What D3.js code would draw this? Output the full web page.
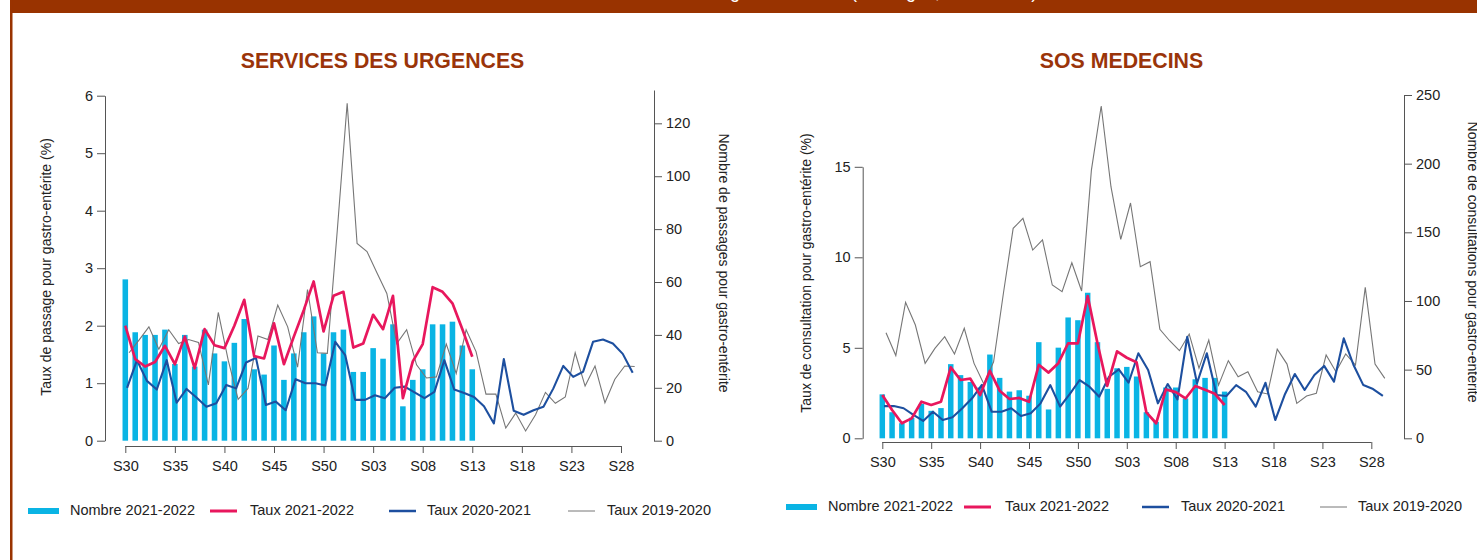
<!DOCTYPE html>
<html>
<head>
<meta charset="utf-8">
<script src="https://cdn.jsdelivr.net/npm/d3@7"></script>
<style>
  body { margin: 0; background: #fff; }
  svg { display: block; font-family: "Liberation Sans", Arial, sans-serif; }
</style>
</head>
<body>
<svg id="chart" width="1477" height="560"></svg>
<script>
// week categories (season S30 -> S29)
const weeks = ["S30","S31","S32","S33","S34","S35","S36","S37","S38","S39","S40","S41","S42","S43","S44","S45","S46","S47","S48","S49","S50","S51","S52",
  "S01","S02","S03","S04","S05","S06","S07","S08","S09","S10","S11","S12","S13","S14","S15","S16","S17","S18","S19","S20","S21","S22","S23","S24","S25","S26","S27","S28","S29"];
const tickWeeks = ["S30","S35","S40","S45","S50","S03","S08","S13","S18","S23","S28"];

// SERVICES DES URGENCES
const urgNombre2122 = [61, 41, 40, 40, 42, 29, 40, 28, 42, 33, 30, 37, 46, 27, 25, 36, 23, 33, 41, 47, 33, 41, 42, 26, 26, 35, 31, 44, 13, 23, 27, 44, 44, 45, 36, 27];
const urgTaux2122 = [2.0, 1.42, 1.29, 1.37, 1.65, 1.33, 1.81, 1.26, 1.94, 1.66, 1.61, 2.0, 2.45, 1.47, 1.43, 2.04, 1.33, 1.81, 2.27, 2.77, 1.9, 2.52, 2.59, 1.62, 1.69, 2.19, 1.94, 2.52, 0.74, 1.38, 1.68, 2.67, 2.59, 2.39, 1.94, 1.46];
const urgTaux2021 = [0.92, 1.40, 1.04, 0.89, 1.40, 0.66, 0.90, 0.75, 0.59, 0.65, 0.97, 0.91, 1.36, 1.44, 0.62, 0.68, 0.53, 1.07, 1.0, 1.0, 0.96, 1.72, 1.49, 0.71, 0.71, 0.79, 0.74, 0.92, 0.94, 0.84, 0.74, 0.85, 1.40, 0.89, 0.83, 0.76, 0.60, 0.30, 1.42, 0.52, 0.45, 0.53, 0.59, 0.91, 1.30, 1.11, 1.20, 1.72, 1.76, 1.69, 1.51, 1.18];
const urgTaux1920 = [1.53, 1.75, 1.98, 1.59, 1.93, 1.69, 1.76, 1.71, 0.97, 2.23, 1.40, 0.72, 0.91, 1.82, 1.76, 2.36, 1.98, 1.28, 2.63, 1.53, 1.52, 3.65, 5.87, 3.43, 3.29, 2.92, 2.56, 1.69, 1.93, 1.32, 1.09, 1.11, 1.68, 1.17, 1.93, 1.55, 0.81, 0.81, 0.22, 0.48, 0.17, 0.45, 0.84, 0.65, 0.76, 1.53, 0.95, 1.30, 0.66, 1.07, 1.30, 1.29];

// SOS MEDECINS
const sosNombre2122 = [32, 19, 11, 15, 25, 20, 22, 54, 46, 41, 37, 61, 44, 34, 35, 31, 70, 21, 66, 88, 86, 106, 70, 36, 51, 52, 45, 19, 12, 37, 37, 29, 43, 44, 44, 34];
const sosTaux2122 = [2.39, 1.56, 0.83, 1.1, 2.02, 1.84, 2.02, 3.92, 3.22, 3.30, 2.39, 3.73, 2.63, 2.17, 2.23, 2.02, 4.06, 3.63, 4.15, 5.25, 5.25, 7.86, 5.25, 2.89, 4.8, 4.45, 4.2, 1.43, 0.83, 2.7, 2.55, 2.2, 2.89, 2.68, 2.46, 1.84];
const sosTaux2021 = [1.78, 1.78, 1.66, 1.29, 0.96, 1.47, 1.01, 1.16, 1.66, 2.21, 2.95, 1.47, 1.47, 1.66, 1.23, 1.38, 1.93, 2.94, 1.75, 2.45, 3.22, 2.85, 2.30, 3.40, 3.81, 3.07, 4.70, 3.77, 1.93, 3.0, 2.15, 5.61, 3.04, 4.70, 2.39, 2.34, 2.94, 2.57, 1.75, 3.07, 1.01, 2.45, 3.55, 2.67, 3.50, 4.0, 3.13, 5.52, 4.05, 2.94, 2.72, 2.34];
const sosTaux1920 = [5.83, 4.57, 7.51, 6.26, 4.14, 4.97, 5.61, 4.66, 6.08, 4.14, 3.0, 4.23, 8.0, 11.6, 12.15, 10.4, 10.96, 8.47, 8.1, 9.70, 8.14, 14.82, 18.36, 13.9, 10.99, 13.0, 9.48, 9.76, 6.02, 5.39, 4.84, 5.76, 3.87, 5.43, 2.94, 4.29, 3.40, 3.68, 2.57, 2.45, 4.92, 4.10, 1.93, 2.34, 2.49, 4.60, 3.68, 4.66, 4.05, 8.34, 4.10, 3.31];

const legendLabels = ["Nombre 2021-2022", "Taux 2021-2022", "Taux 2020-2021", "Taux 2019-2020"];

const colBar = "#0ab4e4", colPink = "#e8175d", colBlue = "#1d4f9f", colGray = "#767676";
const axisCol = "#555", textCol = "#222", brown = "#993300";

const svg = d3.select("#chart");

// frame: header bar + left border
svg.append("rect").attr("x", 10).attr("y", 0).attr("width", 1467).attr("height", 13).attr("fill", brown);
svg.append("rect").attr("x", 10).attr("y", 0).attr("width", 2.5).attr("height", 560).attr("fill", brown);
// page title, mostly above the visible area as in the reference
svg.append("text").attr("x", 760).attr("y", -2).attr("text-anchor", "middle")
  .attr("fill", "#fff").style("font-size", "18px")
  .text("Indicateurs hebdomadaires de gastro-entérite (tous âges, 2021-2022)");

const panels = [
  {
    title: "SERVICES DES URGENCES", titleX: 382.5,
    nombre: urgNombre2122, t2122: urgTaux2122, t2021: urgTaux2021, t1920: urgTaux1920,
    x0: 125.3, x1: 630.9, axisY: 446,
    rateDomain: [0, 6], rateRange: [440.7, 95.7], rateTicks: [0, 1, 2, 3, 4, 5, 6], leftAxisX: 105,
    nbDomain: [0, 132.6], nbRange: [440.7, 90], nbTicks: [0, 20, 40, 60, 80, 100, 120], rightAxisX: 654,
    leftLabel: "Taux de passage pour gastro-entérite (%)", leftLabelX: 51, leftLabelY: 267,
    rightLabel: "Nombre de passages pour gastro-entérite", rightLabelX: 719, rightLabelY: 263,
    legendY: 511, legendX: [28, 210, 389, 568], legendTextX: [70, 250, 427, 607]
  },
  {
    title: "SOS MEDECINS", titleX: 1121.5,
    nombre: sosNombre2122, t2122: sosTaux2122, t2021: sosTaux2021, t1920: sosTaux1920,
    x0: 882.3, x1: 1381.1, axisY: 442,
    rateDomain: [0, 15], rateRange: [438.3, 166.8], rateTicks: [0, 5, 10, 15], leftAxisX: 862.7,
    nbDomain: [0, 250], nbRange: [438.3, 95], nbTicks: [0, 50, 100, 150, 200, 250], rightAxisX: 1404,
    leftLabel: "Taux de consultation pour gastro-entérite (%)", leftLabelX: 811, leftLabelY: 273,
    rightLabel: "Nombre de consultations pour gastro-entérite", rightLabelX: 1468, rightLabelY: 262,
    legendY: 507, legendX: [786, 964, 1142, 1320], legendTextX: [828, 1005, 1181, 1358]
  }
];

function drawPanel(p) {
  const g = svg.append("g");
  const x = d3.scalePoint().domain(weeks).range([p.x0, p.x1]);
  const step = x.step();
  const yRate = d3.scaleLinear().domain(p.rateDomain).range(p.rateRange);
  const yNb = d3.scaleLinear().domain(p.nbDomain).range(p.nbRange);

  // title
  g.append("text").attr("x", p.titleX).attr("y", 68).attr("text-anchor", "middle")
    .attr("fill", "#9a3409").style("font-size", "21.3px").style("font-weight", "bold")
    .text(p.title);

  // bars (right axis)
  const bw = step * 0.56;
  g.append("g").selectAll("rect")
    .data(p.nombre)
    .enter()
    .append("rect")
    .attr("x", (d, i) => x(weeks[i]) - bw / 2)
    .attr("y", d => yNb(d))
    .attr("width", bw)
    .attr("height", d => yNb(0) - yNb(d))
    .attr("fill", colBar);

  function line(off) {
    return d3.line()
      .x((d, i) => x(weeks[i]) + off * step)
      .y(d => yRate(d));
  }
  g.append("path").attr("d", line(0.38)(p.t1920)).attr("fill", "none")
    .attr("stroke", colGray).attr("stroke-width", 1.1);
  g.append("path").attr("d", line(0.18)(p.t2021)).attr("fill", "none")
    .attr("stroke", colBlue).attr("stroke-width", 2.1).attr("stroke-linejoin", "round");
  g.append("path").attr("d", line(0)(p.t2122)).attr("fill", "none")
    .attr("stroke", colPink).attr("stroke-width", 2.7).attr("stroke-linejoin", "round");

  // axes
  function styleAxis(sel) {
    sel.selectAll("path, line").attr("stroke", axisCol).attr("stroke-width", 1);
    sel.selectAll("text").attr("fill", textCol).style("font-size", "14.5px")
      .style("font-family", "'Liberation Sans', Arial, sans-serif");
  }
  const xa = g.append("g").attr("transform", `translate(0,${p.axisY})`)
    .call(d3.axisBottom(x).tickValues(tickWeeks).tickSize(7).tickPadding(8));
  xa.select(".domain").remove();
  xa.append("line").attr("x1", x("S30")).attr("x2", x("S28")).attr("y1", 0.5).attr("y2", 0.5);
  styleAxis(xa);

  const la = g.append("g").attr("transform", `translate(${p.leftAxisX},0)`)
    .call(d3.axisLeft(yRate).tickValues(p.rateTicks).tickFormat(d3.format("d"))
      .tickSize(8).tickSizeOuter(0).tickPadding(4));
  styleAxis(la);

  const ra = g.append("g").attr("transform", `translate(${p.rightAxisX},0)`)
    .call(d3.axisRight(yNb).tickValues(p.nbTicks).tickFormat(d3.format("d"))
      .tickSize(8).tickSizeOuter(0).tickPadding(4));
  styleAxis(ra);

  // axis titles
  g.append("text")
    .attr("transform", `translate(${p.leftLabelX},${p.leftLabelY}) rotate(-90)`)
    .attr("text-anchor", "middle").attr("fill", textCol).style("font-size", "14px")
    .text(p.leftLabel);
  g.append("text")
    .attr("transform", `translate(${p.rightLabelX},${p.rightLabelY}) rotate(90)`)
    .attr("text-anchor", "middle").attr("fill", textCol).style("font-size", "14px")
    .text(p.rightLabel);

  // legend
  const styles = [
    { c: colBar, w: 6 }, { c: colPink, w: 3 }, { c: colBlue, w: 2.5 }, { c: colGray, w: 1 }
  ];
  legendLabels.forEach((lab, k) => {
    const sw = k === 0 ? 31 : 27;
    g.append("line")
      .attr("x1", p.legendX[k]).attr("x2", p.legendX[k] + sw)
      .attr("y1", p.legendY).attr("y2", p.legendY)
      .attr("stroke", styles[k].c).attr("stroke-width", styles[k].w);
    g.append("text").attr("x", p.legendTextX[k]).attr("y", p.legendY)
      .attr("dominant-baseline", "middle").attr("fill", textCol)
      .style("font-size", "14.5px").text(lab);
  });
}

panels.forEach(drawPanel);
</script>
</body>
</html>
